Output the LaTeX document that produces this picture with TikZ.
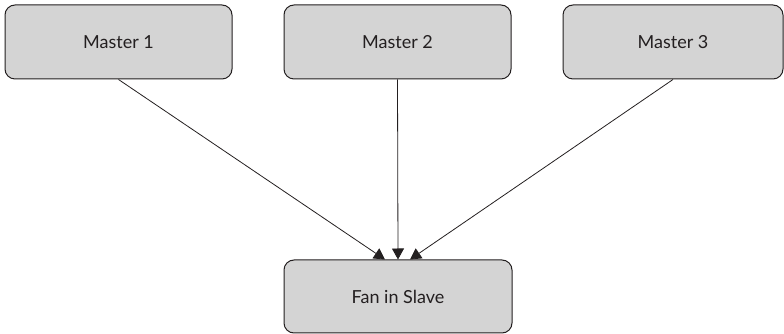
\documentclass[tikz,border=0pt]{standalone}
\usepackage{fontspec}
\setmainfont{Lato}
\usetikzlibrary{arrows.meta}
\definecolor{boxfill}{HTML}{D4D4D4}
\definecolor{ink}{HTML}{231F20}
\tikzset{
  unit/.style={draw=ink, line width=1pt, fill=boxfill, rounded corners=10pt,
    minimum height=74pt, text=ink, font=\fontsize{18pt}{21pt}\selectfont},
  link/.style={draw=ink, line width=0.8pt, -{Triangle[length=11pt,width=12pt]}}
}
\begin{document}
\begin{tikzpicture}[x=1pt,y=1pt]
  \useasboundingbox (0,0) rectangle (784,334);
  \node[unit, minimum width=227pt] (m1) at (118.5,292) {Master 1};
  \node[unit, minimum width=227pt] (m2) at (397.5,292) {Master 2};
  \node[unit, minimum width=220pt] (m3) at (673,292) {Master 3};
  \node[unit, minimum width=228pt, minimum height=73pt] (fan) at (398,37.5) {Fan in Slave};
  \draw[link] (m1.south) -- ([xshift=-13pt]fan.north);
  \draw[link] (m2.south) -- (fan.north);
  \draw[link] (m3.south) -- ([xshift=12pt]fan.north);
\end{tikzpicture}
\end{document}
